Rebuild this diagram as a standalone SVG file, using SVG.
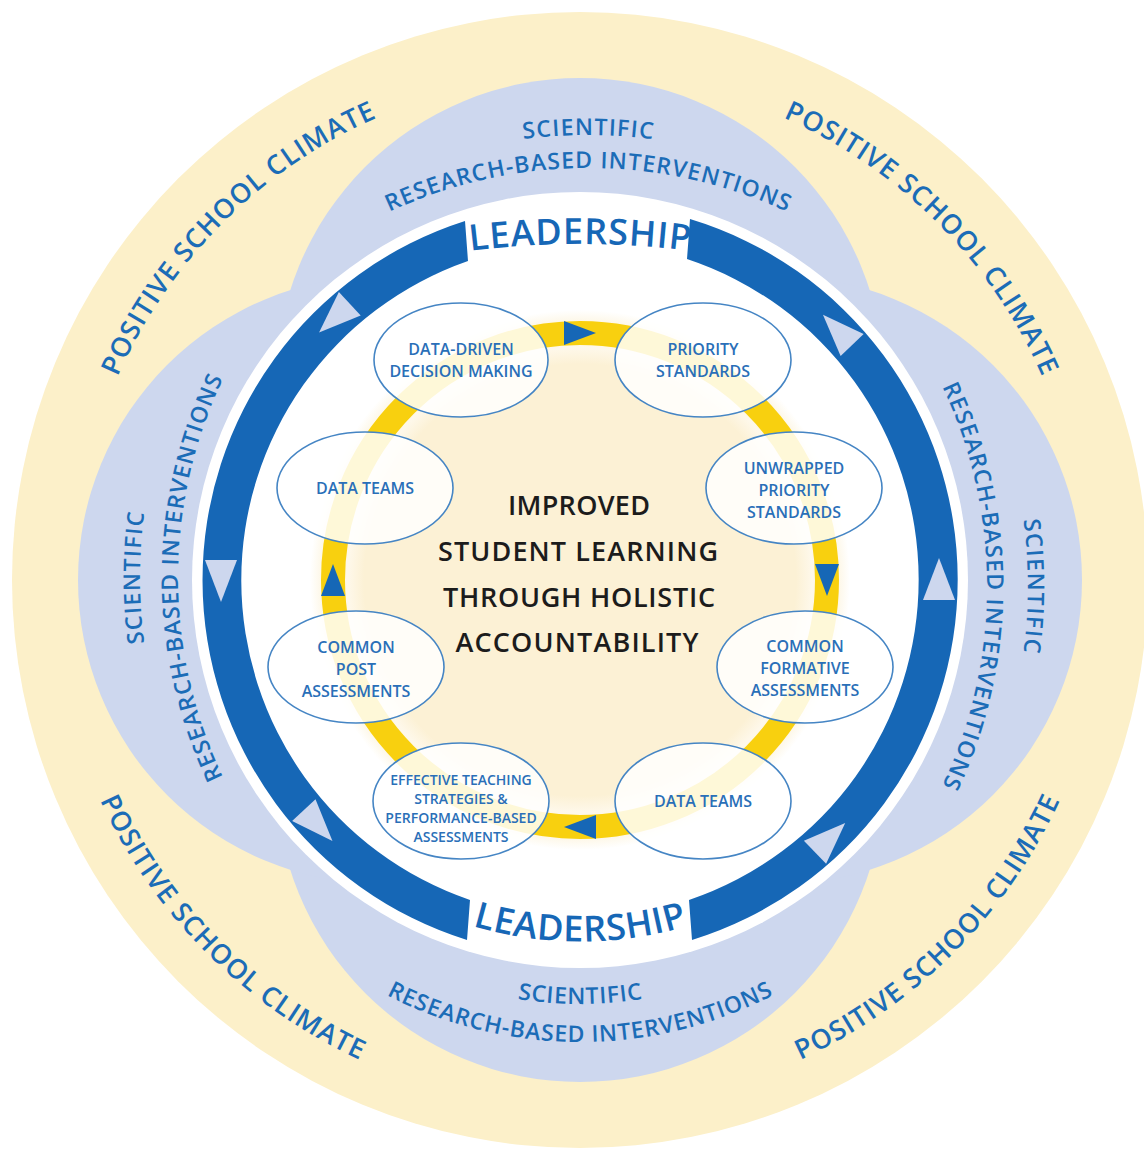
<svg xmlns="http://www.w3.org/2000/svg" xmlns:xlink="http://www.w3.org/1999/xlink" width="1144" height="1150" viewBox="0 0 1144 1150">
  <style>
    .lobe { fill: #cdd7ee; }
    .band { fill: #1667b6; }
    .chev { fill: #cdd7ee; }
    .arrow { fill: #1667b6; }
    .step { fill: #ffffff; fill-opacity: 0.84; stroke: #4585c4; stroke-width: 1.6; }
    .lbl { font-family: "Open Sans", "Liberation Sans", sans-serif; font-weight: 600; fill: #2a6fb8; text-anchor: middle; }
    .s16 { font-size: 16px; }
    .s14 { font-size: 14px; }
    .arc { font-family: "Open Sans", "Liberation Sans", sans-serif; font-weight: 600; fill: #1b6cb7; }
    .lobeTxt { font-size: 23px; }
    .climate { font-size: 27px; }
    .lead { font-size: 36px; fill: #1667b6; }
    .core { font-family: "Open Sans", "Liberation Sans", sans-serif; font-weight: 600; font-size: 27px; fill: #1c1c1c; text-anchor: middle; }
  </style>
  <defs>
    <radialGradient id="coreFill" cx="580" cy="580" r="270" gradientUnits="userSpaceOnUse">
      <stop offset="0" stop-color="#fcf1d5"/>
      <stop offset="0.8" stop-color="#fcf1d5"/>
      <stop offset="0.86" stop-color="#fef8ea"/>
      <stop offset="0.93" stop-color="#fcf2d8"/>
      <stop offset="1" stop-color="#ffffff"/>
    </radialGradient>
    <polygon id="chev" points="923,600 955,600 939,558"/>
    <!-- baselines for curved lettering -->
    <path id="pTopSci" d="M 83 640 A 505 505 0 0 1 1093 640"/>
    <path id="pTopRes" d="M 116 640 A 472 472 0 0 1 1060 640"/>
    <path id="pLeftSci" d="M 640 1078 A 500 500 0 0 1 640 78"/>
    <path id="pLeftRes" d="M 640 1040 A 462 462 0 0 1 640 116"/>
    <path id="pRightSci" d="M 520 78 A 508 508 0 0 1 520 1094"/>
    <path id="pRightRes" d="M 520 119 A 467 467 0 0 1 520 1053"/>
    <path id="pBotSci" d="M 196 620 A 384 384 0 0 0 964 620"/>
    <path id="pBotRes" d="M 158 620 A 422 422 0 0 0 1002 620"/>
    <path id="pClimUL" d="M 92.2 710.7 A 505 505 0 0 1 710.7 92.2"/>
    <path id="pClimUR" d="M 449.3 92.2 A 505 505 0 0 1 1067.8 710.7"/>
    <path id="pClimLL" d="M 70 443.3 A 528 528 0 0 0 716.7 1090"/>
    <path id="pClimLR" d="M 443.3 1090 A 528 528 0 0 0 1090 443.3"/>
    <path id="pLeadTop" d="M 380 266.5 A 900 900 0 0 1 780 266.5"/>
    <path id="pLeadBot" d="M 380 884 A 376 376 0 0 0 780 884"/>
  </defs>

  <!-- outer climate disk -->
  <g id="climate-ring">
    <circle cx="580" cy="580" r="568" fill="#fcf0c9"/>
    <text class="arc climate"><textPath xlink:href="#pClimUL" href="#pClimUL" startOffset="50%" text-anchor="middle" textLength="375">POSITIVE SCHOOL CLIMATE</textPath></text>
    <text class="arc climate"><textPath xlink:href="#pClimUR" href="#pClimUR" startOffset="50%" text-anchor="middle" textLength="375">POSITIVE SCHOOL CLIMATE</textPath></text>
    <text class="arc climate"><textPath xlink:href="#pClimLL" href="#pClimLL" startOffset="50%" text-anchor="middle" textLength="375">POSITIVE SCHOOL CLIMATE</textPath></text>
    <text class="arc climate"><textPath xlink:href="#pClimLR" href="#pClimLR" startOffset="50%" text-anchor="middle" textLength="375">POSITIVE SCHOOL CLIMATE</textPath></text>
  </g>

  <!-- four-lobed interventions layer -->
  <g id="interventions">
    <circle class="lobe" cx="580" cy="382" r="304"/>
    <circle class="lobe" cx="580" cy="778" r="304"/>
    <circle class="lobe" cx="382" cy="580" r="304"/>
    <circle class="lobe" cx="778" cy="580" r="304"/>
    <text class="arc lobeTxt"><textPath xlink:href="#pTopSci" href="#pTopSci" startOffset="50%" text-anchor="middle" textLength="130">SCIENTIFIC</textPath></text>
    <text class="arc lobeTxt"><textPath xlink:href="#pTopRes" href="#pTopRes" startOffset="50%" text-anchor="middle" textLength="410">RESEARCH-BASED INTERVENTIONS</textPath></text>
    <text class="arc lobeTxt"><textPath xlink:href="#pLeftSci" href="#pLeftSci" startOffset="50%" text-anchor="middle" textLength="131">SCIENTIFIC</textPath></text>
    <text class="arc lobeTxt"><textPath xlink:href="#pLeftRes" href="#pLeftRes" startOffset="50%" text-anchor="middle" textLength="412">RESEARCH-BASED INTERVENTIONS</textPath></text>
    <text class="arc lobeTxt"><textPath xlink:href="#pRightSci" href="#pRightSci" startOffset="50%" text-anchor="middle" textLength="133">SCIENTIFIC</textPath></text>
    <text class="arc lobeTxt"><textPath xlink:href="#pRightRes" href="#pRightRes" startOffset="50%" text-anchor="middle" textLength="412">RESEARCH-BASED INTERVENTIONS</textPath></text>
    <text class="arc lobeTxt"><textPath xlink:href="#pBotSci" href="#pBotSci" startOffset="50%" text-anchor="middle" textLength="126">SCIENTIFIC</textPath></text>
    <text class="arc lobeTxt"><textPath xlink:href="#pBotRes" href="#pBotRes" startOffset="50%" text-anchor="middle" textLength="402">RESEARCH-BASED INTERVENTIONS</textPath></text>
  </g>

  <!-- leadership ring -->
  <g id="leadership">
    <circle cx="580" cy="580" r="388" fill="#ffffff"/>
    <path class="band" d="M 465 221 A 377 377 0 0 0 467 940 L 470 900 A 338 338 0 0 1 468 261 Z"/>
    <path class="band" d="M 690 219 A 377 377 0 0 1 692 940 L 689 900 A 338 338 0 0 0 687 259 Z"/>
    <use class="chev" href="#chev" xlink:href="#chev"/>
    <use class="chev" href="#chev" xlink:href="#chev" transform="rotate(-44 580 580)"/>
    <use class="chev" href="#chev" xlink:href="#chev" transform="rotate(46 580 580)"/>
    <use class="chev" href="#chev" xlink:href="#chev" transform="rotate(180 580 580)"/>
    <use class="chev" href="#chev" xlink:href="#chev" transform="rotate(137 580 580)"/>
    <use class="chev" href="#chev" xlink:href="#chev" transform="rotate(227 580 580)"/>
    <text class="arc lead"><textPath xlink:href="#pLeadTop" href="#pLeadTop" startOffset="50%" text-anchor="middle" textLength="220">LEADERSHIP</textPath></text>
    <text class="arc lead"><textPath xlink:href="#pLeadBot" href="#pLeadBot" startOffset="50%" text-anchor="middle" textLength="218">LEADERSHIP</textPath></text>
  </g>

  <!-- inner field -->
  <g id="core-field">
    <circle cx="580" cy="580" r="270" fill="url(#coreFill)"/>
  </g>

  <!-- cycle ring with direction arrows -->
  <g id="connectors">
    <circle cx="580" cy="580" r="247" fill="none" stroke="#f8d00f" stroke-width="24"/>
    <polygon class="arrow" points="564,321 564,345 596,333"/>
    <polygon class="arrow" points="839,564 815,564 827,596"/>
    <polygon class="arrow" points="596,839 596,815 564,827"/>
    <polygon class="arrow" points="321,596 345,596 333,564"/>
  </g>

  <g id="node-data-driven">
    <ellipse class="step" cx="461" cy="360" rx="87" ry="57"/>
    <text class="lbl s16" x="461" y="355">DATA-DRIVEN</text>
    <text class="lbl s16" x="461" y="377">DECISION MAKING</text>
  </g>
  <g id="node-priority">
    <ellipse class="step" cx="703" cy="360" rx="88" ry="57"/>
    <text class="lbl s16" x="703" y="355">PRIORITY</text>
    <text class="lbl s16" x="703" y="377">STANDARDS</text>
  </g>
  <g id="node-unwrapped">
    <ellipse class="step" cx="794" cy="488" rx="88" ry="56"/>
    <text class="lbl s16" x="794" y="474">UNWRAPPED</text>
    <text class="lbl s16" x="794" y="496">PRIORITY</text>
    <text class="lbl s16" x="794" y="518">STANDARDS</text>
  </g>
  <g id="node-formative">
    <ellipse class="step" cx="805" cy="667" rx="88" ry="56"/>
    <text class="lbl s16" x="805" y="652">COMMON</text>
    <text class="lbl s16" x="805" y="674">FORMATIVE</text>
    <text class="lbl s16" x="805" y="696">ASSESSMENTS</text>
  </g>
  <g id="node-data-teams-b">
    <ellipse class="step" cx="703" cy="801" rx="88" ry="58"/>
    <text class="lbl s16" x="703" y="807">DATA TEAMS</text>
  </g>
  <g id="node-effective">
    <ellipse class="step" cx="461" cy="801" rx="88" ry="58"/>
    <text class="lbl s14" x="461" y="785">EFFECTIVE TEACHING</text>
    <text class="lbl s14" x="461" y="804">STRATEGIES &amp;</text>
    <text class="lbl s14" x="461" y="823">PERFORMANCE-BASED</text>
    <text class="lbl s14" x="461" y="842">ASSESSMENTS</text>
  </g>
  <g id="node-post">
    <ellipse class="step" cx="356" cy="667" rx="88" ry="56"/>
    <text class="lbl s16" x="356" y="653">COMMON</text>
    <text class="lbl s16" x="356" y="675">POST</text>
    <text class="lbl s16" x="356" y="697">ASSESSMENTS</text>
  </g>
  <g id="node-data-teams-a">
    <ellipse class="step" cx="365" cy="488" rx="88" ry="56"/>
    <text class="lbl s16" x="365" y="494">DATA TEAMS</text>
  </g>

  <g id="node-goal">
    <text class="core" x="579" y="515" textLength="142">IMPROVED</text>
    <text class="core" x="578" y="561" textLength="280">STUDENT LEARNING</text>
    <text class="core" x="579" y="607" textLength="272">THROUGH HOLISTIC</text>
    <text class="core" x="577" y="652" textLength="243">ACCOUNTABILITY</text>
  </g>
</svg>
